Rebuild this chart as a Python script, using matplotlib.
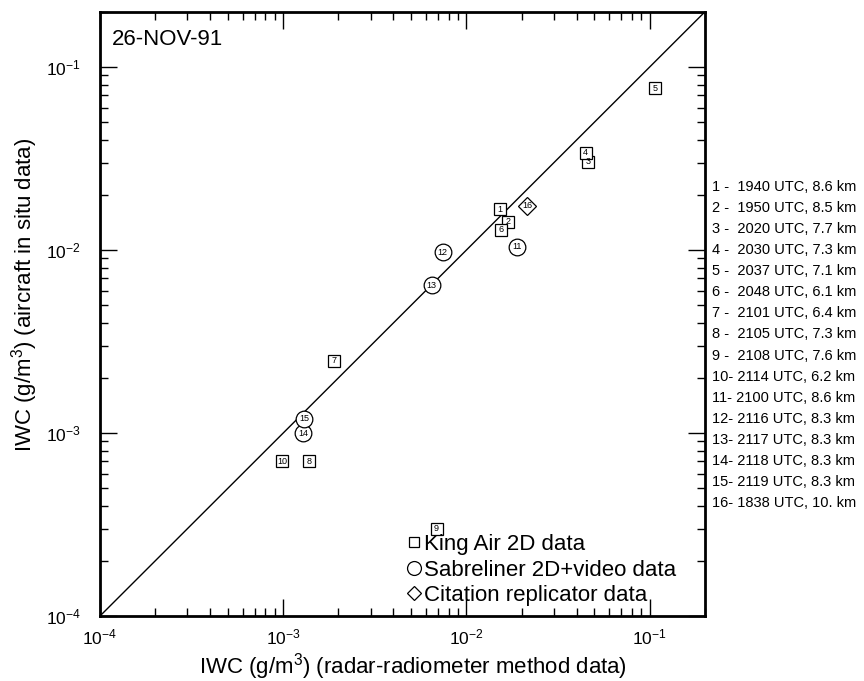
import numpy as np
import matplotlib.pyplot as plt
from matplotlib.lines import Line2D
from matplotlib.ticker import LogLocator, NullFormatter

plt.rcParams['font.family'] = ['Liberation Sans', 'DejaVu Sans']
plt.rcParams['mathtext.fontset'] = 'custom'
plt.rcParams['mathtext.rm'] = 'Liberation Sans'
plt.rcParams['mathtext.it'] = 'Liberation Sans'

# King Air 2D (squares)
sq_id = [1, 2, 3, 4, 5, 6, 7, 8, 9, 10]
sq_x = [0.0152, 0.0168, 0.0462, 0.0447, 0.1067, 0.0154, 0.00189, 0.00139, 0.00687, 0.00099]
sq_y = [0.0167, 0.0143, 0.0304, 0.0340, 0.0766, 0.0129, 0.00249, 0.00070, 0.00030, 0.00070]

# Sabreliner 2D+video (circles)
ci_id = [11, 12, 13, 14, 15]
ci_x = [0.0189, 0.00742, 0.00646, 0.00129, 0.00130]
ci_y = [0.0104, 0.00970, 0.00641, 0.00100, 0.00120]

# Citation replicator (diamond)
di_id = [16]
di_x = [0.0215]
di_y = [0.0175]

legend_labels = ['King Air 2D data', 'Sabreliner 2D+video data', 'Citation replicator data']

flight_info = [
    '1 -  1940 UTC, 8.6 km', '2 -  1950 UTC, 8.5 km', '3 -  2020 UTC, 7.7 km',
    '4 -  2030 UTC, 7.3 km', '5 -  2037 UTC, 7.1 km', '6 -  2048 UTC, 6.1 km',
    '7 -  2101 UTC, 6.4 km', '8 -  2105 UTC, 7.3 km', '9 -  2108 UTC, 7.6 km',
    '10- 2114 UTC, 6.2 km', '11- 2100 UTC, 8.6 km', '12- 2116 UTC, 8.3 km',
    '13- 2117 UTC, 8.3 km', '14- 2118 UTC, 8.3 km', '15- 2119 UTC, 8.3 km',
    '16- 1838 UTC, 10. km',
]

lims = [1e-4, 0.2]

fig = plt.figure(figsize=(8.64, 6.81), dpi=100)
ax = fig.add_axes([0.1157, 0.0954, 0.700, 0.887])

ax.plot(lims, lims, color='k', lw=1.0, zorder=1)

def draw_group(xs, ys, ids, marker, size):
    ax.plot(xs, ys, ls='none', marker=marker, ms=size, mfc='white', mec='k', mew=0.9, zorder=2)
    for x, y, n in zip(xs, ys, ids):
        ax.text(x, y, str(n), fontsize=6.5, ha='center', va='center', zorder=3)

draw_group(sq_x, sq_y, sq_id, 's', 9)
draw_group(ci_x, ci_y, ci_id, 'o', 12)
draw_group(di_x, di_y, di_id, 'D', 9)

ax.set_xscale('log')
ax.set_yscale('log')
ax.set_xlim(lims)
ax.set_ylim(lims)

for axis in [ax.xaxis, ax.yaxis]:
    axis.set_major_locator(LogLocator(base=10, numticks=10))
    axis.set_minor_locator(LogLocator(base=10, subs=np.arange(2, 10), numticks=20))
    axis.set_minor_formatter(NullFormatter())

ax.tick_params(which='both', direction='in', top=True, right=True, labelsize=12.5, width=1)
ax.tick_params(which='major', length=12)
ax.tick_params(which='minor', length=6)
ax.tick_params(axis='x', which='major', pad=8)
ax.tick_params(axis='y', which='major', pad=14)
for s in ax.spines.values():
    s.set_linewidth(2)

ax.set_xlabel('IWC (g/m$^3$) (radar-radiometer method data)', fontsize=16)
ax.set_ylabel('IWC (g/m$^3$) (aircraft in situ data)', fontsize=16)
ax.xaxis.set_label_coords(0.517, -0.058)
ax.yaxis.set_label_coords(-0.099, 0.531)

ax.text(0.02, 0.955, '26-NOV-91', transform=ax.transAxes, fontsize=16, ha='left', va='center')

handles = [
    Line2D([], [], ls='none', marker='s', ms=7, mfc='white', mec='k', mew=0.9),
    Line2D([], [], ls='none', marker='o', ms=10, mfc='white', mec='k', mew=0.9),
    Line2D([], [], ls='none', marker='D', ms=7.5, mfc='white', mec='k', mew=0.9),
]
ax.legend(handles, legend_labels, loc='lower left', bbox_to_anchor=(0.49, 0.0),
          frameon=False, fontsize=16, handlelength=0.7, handletextpad=0.1,
          labelspacing=0.2, borderaxespad=0.05)

for i, s in enumerate(flight_info):
    fig.text(0.824, 1 - (187 + 21.07 * i) / 681, s, fontsize=10.5, ha='left', va='center')

fig.savefig('out.png', dpi=100)
